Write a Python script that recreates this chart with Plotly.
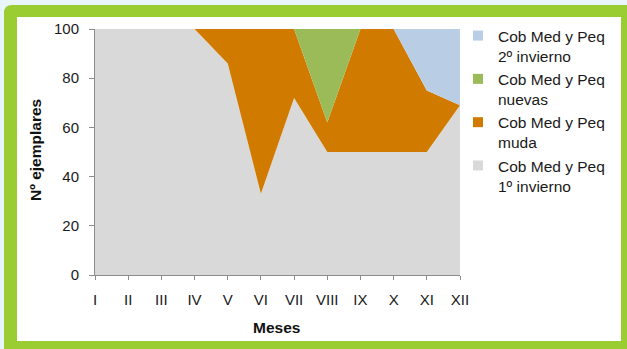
import plotly.graph_objects as go

# Months (Roman numerals) and monthly share of each plumage class
meses = ["I", "II", "III", "IV", "V", "VI", "VII", "VIII", "IX", "X", "XI", "XII"]
invierno1 = [100, 100, 100, 100, 86, 33, 72, 50, 50, 50, 50, 69]
muda = [0, 0, 0, 0, 14, 67, 28, 12, 50, 50, 25, 0]
nuevas = [0, 0, 0, 0, 0, 0, 0, 38, 0, 0, 0, 0]
invierno2 = [0, 0, 0, 0, 0, 0, 0, 0, 0, 0, 25, 31]

nombres = {
    "invierno1": "Cob Med y Peq<br>1º invierno",
    "muda": "Cob Med y Peq<br>muda",
    "nuevas": "Cob Med y Peq<br>nuevas",
    "invierno2": "Cob Med y Peq<br>2º invierno",
}
colores = {
    "invierno1": "#D9D9D9",
    "muda": "#D07B00",
    "nuevas": "#9BBB59",
    "invierno2": "#B9CDE5",
}

W, H = 627, 349
L, R, T, B = 95, 460, 29, 275  # plot area in pixels
PW, PH = R - L, B - T


def fx(px):
    return (px - L) / PW


def fy(py):
    return (B - py) / PH


x = list(range(len(meses)))

fig = go.Figure()

# stacked areas, bottom to top
for key, vals in [("invierno1", invierno1), ("muda", muda),
                  ("nuevas", nuevas), ("invierno2", invierno2)]:
    fig.add_trace(go.Scatter(
        x=x, y=vals, stackgroup="uno", mode="none",
        fillcolor=colores[key], line=dict(width=0),
        showlegend=False, hoverinfo="skip",
    ))

# legend entries as small squares, top-down order
for key in ["invierno2", "nuevas", "muda", "invierno1"]:
    fig.add_trace(go.Scatter(
        x=[None], y=[None], mode="markers", name=nombres[key],
        legendgroup=key,
        marker=dict(symbol="square", size=10, color=colores[key],
                    line=dict(width=0)),
    ))

# outer frame: light-blue page, green border with rounded corner, white card
frame = (f"M {fx(4)},{fy(349)} L {fx(4)},{fy(13)} "
         f"Q {fx(4)},{fy(5)} {fx(12)},{fy(5)} "
         f"L {fx(627)},{fy(5)} L {fx(627)},{fy(349)} Z")
shapes = [
    dict(type="path", xref="paper", yref="paper", path=frame,
         fillcolor="#9ACD32", line=dict(width=0), layer="below"),
    dict(type="rect", xref="paper", yref="paper",
         x0=fx(17), x1=fx(621), y0=fy(341), y1=fy(17),
         fillcolor="#FFFFFF", line=dict(width=0), layer="below"),
]

title_font = dict(family="Liberation Sans, Arial", size=15.5, color="#111111")
annotations = [
    dict(text="<b>Nº ejemplares</b>", xref="paper", yref="paper",
         x=fx(35), y=fy(150), textangle=-90, showarrow=False,
         xanchor="center", yanchor="middle", font=title_font),
    dict(text="<b>Meses</b>", xref="paper", yref="paper",
         x=fx(276), y=fy(327), showarrow=False,
         xanchor="center", yanchor="middle", font=title_font),
]

axis_font = dict(family="Liberation Sans, Arial", size=15, color="#1a1a1a")

fig.update_layout(
    width=W, height=H, autosize=False,
    margin=dict(l=L, r=W - R, t=T, b=H - B, pad=0),
    paper_bgcolor="#EAF5FB",
    plot_bgcolor="rgba(0,0,0,0)",
    shapes=shapes,
    annotations=annotations,
    font=axis_font,
    xaxis=dict(
        range=[0, len(meses) - 1], tickmode="array", tickvals=x,
        ticktext=meses, ticks="outside", ticklen=4, tickcolor="#8C8C8C",
        showline=True, linecolor="#8C8C8C", linewidth=1,
        showgrid=False, zeroline=False, tickfont=axis_font,
        ticklabelstandoff=7,
    ),
    yaxis=dict(
        range=[0, 100], dtick=20, ticks="outside", ticklen=5,
        tickcolor="#8C8C8C", showline=True, linecolor="#8C8C8C",
        linewidth=1, showgrid=False, zeroline=False, tickfont=axis_font,
        ticklabelstandoff=7,
    ),
    legend=dict(
        x=fx(458), y=fy(19), xanchor="left", yanchor="top",
        traceorder="grouped", tracegroupgap=0, valign="top",
        bgcolor="rgba(0,0,0,0)", maxheight=330,
        font=dict(family="Liberation Sans, Arial", size=15.5, color="#1a1a1a"),
    ),
)

fig.write_html("out.html")
